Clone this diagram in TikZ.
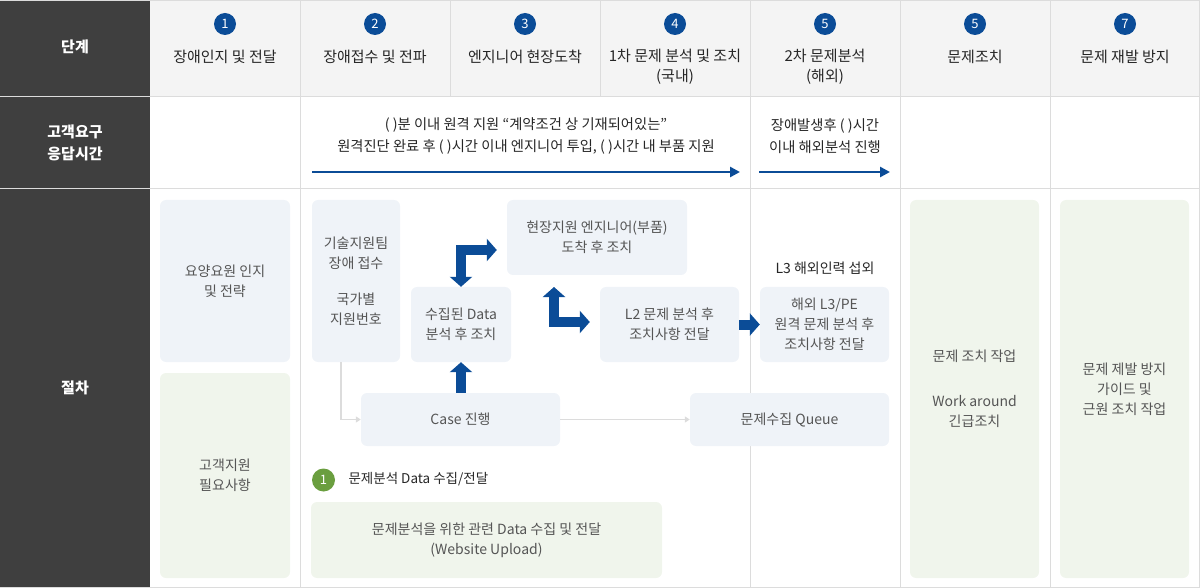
\documentclass[tikz,border=0pt]{standalone}
\usepackage{fontspec}
\setmainfont{Noto Sans CJK KR}
\usetikzlibrary{arrows.meta}

\definecolor{darkcol}{HTML}{3F3F3F}
\definecolor{headbg}{HTML}{F4F4F4}
\definecolor{gridline}{HTML}{DCDCDC}
\definecolor{numblue}{HTML}{0B4C97}
\definecolor{boxblue}{HTML}{EFF3F8}
\definecolor{boxgreen}{HTML}{F0F5EC}
\definecolor{numgreen}{HTML}{6A9E3F}
\definecolor{boxtext}{HTML}{555555}
\definecolor{darktext}{HTML}{262626}

\tikzset{
	bluebox/.style={fill=boxblue, rounded corners=6pt, inner sep=0pt, align=center, text=boxtext},
	greenbox/.style={bluebox, fill=boxgreen},
	stepnum/.style={circle, fill=numblue, text=white, minimum size=22pt, inner sep=0pt, font=\fontsize{13}{13}\selectfont},
	headtxt/.style={align=center, text=darktext, font=\fontsize{15}{20}\selectfont},
	sidetxt/.style={align=center, text=white, font=\fontsize{15}{22}\selectfont\bfseries},
	timeline/.style={draw=numblue, line width=2.6pt, -{Triangle[width=10pt,length=10pt]}},
	blockarrow/.style={draw=numblue, line width=10pt, line join=miter, -{Triangle[width=22pt,length=10pt]}},
	grayarrow/.style={draw=gridline, line width=1.5pt, -{Triangle[width=6pt,length=5pt]}}
}

\begin{document}
\begin{tikzpicture}[x=1pt, y=-1pt, font=\fontsize{14}{20}\selectfont]
	\useasboundingbox (0,0) rectangle (1200,588);
	% table
	\fill [headbg] (150,0) rectangle (1200,97);
	\fill [darkcol] (0,0) rectangle (150,588);
	\draw [gridline, line width=1pt] (0,0.5) -- (1200,0.5);
	\draw [gridline, line width=1pt] (0,97) -- (1200,97);
	\draw [gridline, line width=1pt] (0,189) -- (1200,189);
	\draw [gridline, line width=1pt] (0,587.5) -- (1200,587.5);
	\draw [gridline, line width=1pt] (1199.5,0) -- (1199.5,588);
	\foreach \x in {300,750,900,1050}
		\draw [gridline, line width=1pt] (\x,0) -- (\x,588);
	\foreach \x in {450,600}
		\draw [gridline, line width=1pt] (\x,0) -- (\x,97);

	% left column
	\node [sidetxt] (stage) at (75,47) {단계};
	\node [sidetxt] (resp) at (75,143) {고객요구\\응답시간};
	\node [sidetxt] (proc) at (75,388) {절차};

	% header
	\node [stepnum] (n1) at (225,24) {1};
	\node [stepnum] (n2) at (375,24) {2};
	\node [stepnum] (n3) at (525,24) {3};
	\node [stepnum] (n4) at (675,24) {4};
	\node [stepnum] (n5) at (825,24) {5};
	\node [stepnum] (n6) at (975,24) {5};
	\node [stepnum] (n7) at (1125,24) {7};
	\node [headtxt] (h1) at (225,57) {장애인지 및 전달};
	\node [headtxt] (h2) at (375,57) {장애접수 및 전파};
	\node [headtxt] (h3) at (525,57) {엔지니어 현장도착};
	\node [headtxt] (h4) at (675,67) {1차 문제 분석 및 조치\\(국내)};
	\node [headtxt] (h5) at (825,67) {2차 문제분석\\(해외)};
	\node [headtxt] (h6) at (975,57) {문제조치};
	\node [headtxt] (h7) at (1125,57) {문제 재발 방지};

	% response time
	\node [align=center, text=darktext, font=\fontsize{14.3}{22}\selectfont] (t1) at (526,136)
		{( )분 이내 원격 지원 “계약조건 상 기재되어있는”\\원격진단 완료 후 ( )시간 이내 엔지니어 투입, ( )시간 내 부품 지원};
	\node [align=center, text=darktext, font=\fontsize{14.3}{22}\selectfont] (t2) at (825,136)
		{장애발생후 ( )시간\\이내 해외분석 진행};
	\coordinate (t1a) at (312,172);
	\coordinate (t1b) at (740,172);
	\coordinate (t2a) at (759,172);
	\coordinate (t2b) at (890,172);
	\draw [timeline] (t1a) -- (t1b);
	\draw [timeline] (t2a) -- (t2b);

	% procedure
	\node [bluebox, minimum width=130pt, minimum height=162pt] (aware) at (225,281) {요양요원 인지\\및 전략};
	\node [greenbox, minimum width=130pt, minimum height=205pt] (need) at (225,475.5) {고객지원\\필요사항};
	\node [bluebox, minimum width=88pt, minimum height=162pt] (tech) at (356,281)
		{기술지원팀\\장애 접수\\[16pt]국가별\\지원번호};
	\node [bluebox, minimum width=100pt, minimum height=75pt] (data) at (461,324.5) {수집된 Data\\분석 후 조치};
	\node [bluebox, minimum width=180pt, minimum height=75pt] (site) at (597,237.5) {현장지원 엔지니어(부품)\\도착 후 조치};
	\node [bluebox, minimum width=139pt, minimum height=75pt] (ltwo) at (669.5,324.5) {L2 문제 분석 후\\조치사항 전달};
	\node [text=darktext] (lthree) at (825,268) {L3 해외인력 섭외};
	\node [bluebox, minimum width=129pt, minimum height=75pt] (abroad) at (824.5,324.5)
		{해외 L3/PE\\원격 문제 분석 후\\조치사항 전달};
	\node [bluebox, minimum width=199pt, minimum height=53pt] (case) at (460.5,419.5) {Case 진행};
	\node [bluebox, minimum width=199pt, minimum height=53pt] (queue) at (789.5,419.5) {문제수집 Queue};
	\node [circle, fill=numgreen, text=white, minimum size=23pt, inner sep=0pt,
		font=\fontsize{13}{13}\selectfont] (g1) at (323.5,480) {1};
	\node [anchor=west, text=darktext, font=\fontsize{13.5}{20}\selectfont] (gtitle) at (345,479) {문제분석 Data 수집/전달};
	\node [greenbox, minimum width=351pt, minimum height=76pt] (upload) at (486.5,540)
		{문제분석을 위한 관련 Data 수집 및 전달\\(Website Upload)};
	\node [greenbox, minimum width=129pt, minimum height=378pt] (fix) at (974.5,389)
		{문제 조치 작업\\[25pt]Work around\\긴급조치};
	\node [greenbox, minimum width=129pt, minimum height=378pt] (prevent) at (1124.5,389)
		{문제 제발 방지\\가이드 및\\근원 조치 작업};

	% connectors
	\draw [grayarrow] ([xshift=-15pt]tech.south) |- (case.west);
	\draw [grayarrow] (case.east) -- (queue.west);
	\draw [blockarrow] (case.north -| data.south) -- (data.south);
	\draw [blockarrow, {Triangle[width=22pt,length=10pt]}-{Triangle[width=22pt,length=10pt]}]
		(data.north) |- ([xshift=-10pt, yshift=-12.5pt]site.west);
	\coordinate (up2) at (554,287);
	\draw [blockarrow, {Triangle[width=22pt,length=10pt]}-{Triangle[width=22pt,length=10pt]}]
		(up2) |- ([xshift=-10pt, yshift=2.5pt]ltwo.west);
	\draw [blockarrow] (ltwo.east) -- (abroad.west);
\end{tikzpicture}
\end{document}
